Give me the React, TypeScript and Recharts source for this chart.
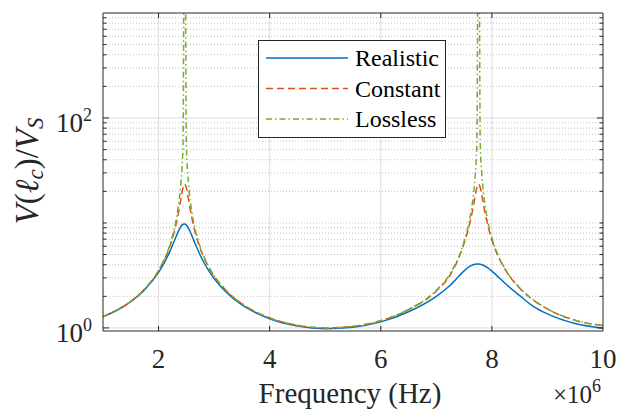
import React from "react";
import { LineChart, Line, XAxis, YAxis, ReferenceLine, Legend } from "recharts";

// frequency in units of 1e6 Hz
const freqMHz = [
  1, 1.25, 1.5, 1.75, 2, 2.1, 2.2, 2.3, 2.35, 2.4, 2.44, 2.47, 2.5, 2.54, 2.6,
  2.65, 2.7, 2.8, 2.9, 3, 3.25, 3.5, 3.75, 4, 4.5, 5, 5.5, 6, 6.5, 7, 7.25, 7.5,
  7.6, 7.65, 7.7, 7.73, 7.76, 7.79, 7.82, 7.87, 7.92, 8, 8.1, 8.25, 8.5, 8.75,
  9, 9.5, 10,
];

const realistic = [
  1.279, 1.473, 1.782, 2.316, 3.386, 4.152, 5.307, 7.073, 8.173, 9.215, 9.735,
  9.8, 9.565, 8.88, 7.557, 6.513, 5.641, 4.366, 3.528, 2.954, 2.108, 1.661,
  1.395, 1.225, 1.043, 0.985, 1.016, 1.142, 1.427, 2.0, 2.55, 3.5, 3.854, 3.971,
  4.044, 4.062, 4.06, 4.039, 3.997, 3.89, 3.748, 3.475, 3.114, 2.624, 2.03, 1.6,
  1.36, 1.1, 0.992,
];

const constant = [
  1.28, 1.476, 1.791, 2.343, 3.503, 4.398, 5.913, 8.948, 11.83, 16.6, 21.57,
  23.47, 21.57, 16.6, 11.13, 8.516, 6.852, 4.9, 3.811, 3.125, 2.177, 1.699,
  1.42, 1.244, 1.058, 1.0, 1.034, 1.172, 1.496, 2.25, 3.2, 6.409, 9.81, 13.04,
  18.18, 21.73, 23.47, 21.73, 18.18, 13.04, 9.81, 6.893, 4.99, 3.528, 2.392,
  1.836, 1.516, 1.181, 1.05,
];

const lossless = [
  1.282, 1.478, 1.796, 2.355, 3.542, 4.476, 6.109, 9.68, 13.7, 23.47, 54.7,
  100000, 54.7, 23.47, 12.64, 9.14, 7.16, 5.01, 3.862, 3.153, 2.186, 1.704,
  1.423, 1.245, 1.059, 1.0, 1.035, 1.174, 1.499, 2.28, 3.3, 6.662, 10.8, 15.68,
  28.76, 57.5, 100000, 57.5, 28.76, 15.68, 10.8, 7.21, 5.107, 3.569, 2.405,
  1.842, 1.519, 1.182, 1.055,
];

const xTicks = [2e6, 4e6, 6e6, 8e6, 10e6];
const yMajor = [1, 100];
const yMinor = [
  2, 3, 4, 5, 6, 7, 8, 9, 10, 20, 30, 40, 50, 60, 70, 80, 90, 200, 300, 400,
  500, 600, 700, 800, 900,
];
const yAllTicks = [...yMajor, ...yMinor];

const SERIES = [
  { key: "realistic", name: "Realistic", color: "#0072BD", dash: undefined },
  { key: "constant", name: "Constant", color: "#D95319", dash: "7 4" },
  { key: "lossless", name: "Lossless", color: "#77AC30", dash: "6 3 1.5 3" },
];

const data = freqMHz.map((f, i) => ({
  f: f * 1e6,
  realistic: realistic[i],
  constant: constant[i],
  lossless: lossless[i],
}));

const SERIF = { fontFamily: "Liberation Serif, DejaVu Serif, serif" };
const AXIS = "#262626";

const LeftTick = (props: any) => {
  const { x, y, payload } = props;
  const major = yMajor.includes(payload.value);
  return (
    <g>
      <line x1={x} x2={x + (major ? 6 : 3.5)} y1={y} y2={y} stroke={AXIS} />
      {major && (
        <text x={92} y={y + 14} textAnchor="end" style={SERIF} fontSize={27} fill={AXIS}>
          10
          <tspan dy={-11} fontSize={18}>
            {Math.round(Math.log10(payload.value))}
          </tspan>
        </text>
      )}
    </g>
  );
};

const RightTick = (props: any) => {
  const { x, y, payload } = props;
  const major = yMajor.includes(payload.value);
  return <line x1={x} x2={x - (major ? 6 : 3.5)} y1={y} y2={y} stroke={AXIS} />;
};

const BottomTick = (props: any) => {
  const { x, y, payload } = props;
  return (
    <g>
      {payload.value < 10e6 && <line x1={x} x2={x} y1={y} y2={y - 5} stroke={AXIS} />}
      <text x={x} y={y + 37} textAnchor="middle" style={SERIF} fontSize={27} fill={AXIS}>
        {payload.value / 1e6}
      </text>
    </g>
  );
};

const TopTick = (props: any) => {
  const { x, y, payload } = props;
  if (payload.value >= 10e6) return <g />;
  return <line x1={x} x2={x} y1={y} y2={y + 5} stroke={AXIS} />;
};

const XLabel = (props: any) => {
  const vb = props.viewBox || { x: 103, y: 331, width: 500, height: 79 };
  return (
    <g style={SERIF} fill={AXIS}>
      <text x={vb.x + vb.width / 2 - 3} y={403} textAnchor="middle" style={SERIF} fontSize={29}>
        Frequency (Hz)
      </text>
      <text x={vb.x + vb.width - 2} y={403} textAnchor="end" style={SERIF} fontSize={25}>
        ×10
        <tspan dy={-11} fontSize={18}>
          6
        </tspan>
      </text>
    </g>
  );
};

const YLabel = () => (
  <text
    transform="translate(38,171) rotate(-90)"
    textAnchor="middle"
    style={SERIF}
    fontSize={33}
    fill={AXIS}
  >
    <tspan fontStyle="italic">V</tspan>
    <tspan>(</tspan>
    <tspan fontStyle="italic">ℓ</tspan>
    <tspan fontStyle="italic" fontSize={23} dy={5}>
      c
    </tspan>
    <tspan dy={-5}>)/</tspan>
    <tspan fontStyle="italic">V</tspan>
    <tspan fontStyle="italic" fontSize={23} dy={5}>
      S
    </tspan>
  </text>
);

const LegendBox = () => (
  <svg width={188} height={98} style={{ display: "block" }}>
    <rect x={0.5} y={0.5} width={187} height={97} fill="#fff" stroke={AXIS} />
    {SERIES.map((s, i) => {
      const cy = 18 + i * 30.5;
      return (
        <g key={s.key}>
          <line
            x1={8}
            x2={90}
            y1={cy}
            y2={cy}
            stroke={s.color}
            strokeWidth={1.5}
            strokeDasharray={s.dash}
          />
          <text x={97} y={cy + 8} style={SERIF} fontSize={24} fill="#000">
            {s.name}
          </text>
        </g>
      );
    })}
  </svg>
);

export default function App() {
  return (
    <div style={{ position: "absolute", left: 0, top: 0, width: 617, height: 410, background: "#fff" }}>
      <LineChart width={617} height={410} data={data} margin={{ top: 0, right: 0, bottom: 0, left: 0 }}>
        <XAxis
          dataKey="f"
          type="number"
          domain={[1e6, 10e6]}
          ticks={xTicks}
          interval={0}
          height={79}
          tickSize={0}
          tickMargin={0}
          tickLine={false}
          tick={<BottomTick />}
          axisLine={{ stroke: AXIS }}
          label={<XLabel />}
        />
        <XAxis
          xAxisId="top"
          orientation="top"
          dataKey="f"
          type="number"
          domain={[1e6, 10e6]}
          ticks={xTicks}
          interval={0}
          height={13}
          tickSize={0}
          tickMargin={0}
          tickLine={false}
          tick={<TopTick />}
          axisLine={{ stroke: AXIS }}
        />
        <YAxis
          type="number"
          scale="log"
          domain={[0.935, 1000]}
          allowDataOverflow
          ticks={yAllTicks}
          interval={0}
          width={103}
          tickSize={0}
          tickMargin={0}
          tickLine={false}
          tick={<LeftTick />}
          axisLine={{ stroke: AXIS }}
          label={<YLabel />}
        />
        <YAxis
          yAxisId="right"
          orientation="right"
          type="number"
          scale="log"
          domain={[0.935, 1000]}
          allowDataOverflow
          ticks={yAllTicks}
          interval={0}
          width={14}
          tickSize={0}
          tickMargin={0}
          tickLine={false}
          tick={<RightTick />}
          axisLine={{ stroke: AXIS }}
        />
        {xTicks.slice(0, 4).map((v) => (
          <ReferenceLine key={"vx" + v} x={v} stroke="#dcdcdc" />
        ))}
        {yMinor.map((v) => (
          <ReferenceLine key={"my" + v} y={v} stroke="#c2c2c2" strokeDasharray="1 2" />
        ))}
        {yMajor.map((v) => (
          <ReferenceLine key={"My" + v} y={v} stroke="#dcdcdc" />
        ))}
        {SERIES.map((s) => (
          <Line
            key={s.key}
            dataKey={s.key}
            name={s.name}
            type="monotone"
            stroke={s.color}
            strokeWidth={1.5}
            strokeDasharray={s.dash}
            dot={false}
            activeDot={false}
            isAnimationActive={false}
          />
        ))}
        <Legend
          layout="vertical"
          align="center"
          verticalAlign="middle"
          content={() => <LegendBox />}
          wrapperStyle={{ left: 258, top: 40, width: 188, height: 98 }}
        />
      </LineChart>
    </div>
  );
}
